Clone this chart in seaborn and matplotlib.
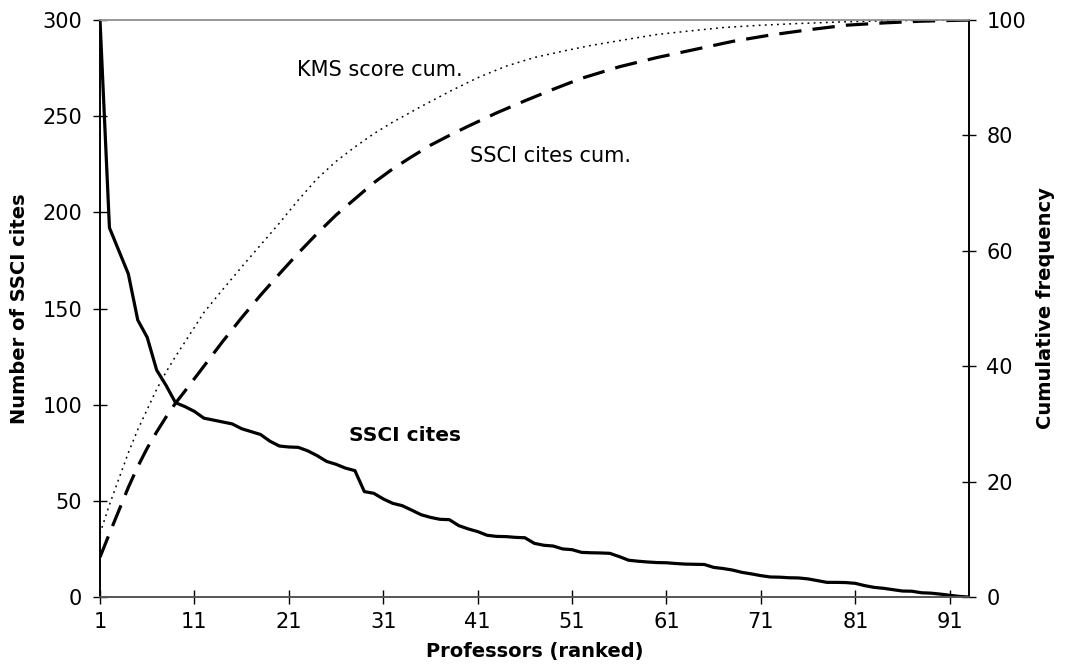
import matplotlib
matplotlib.use("Agg")
import matplotlib.pyplot as plt
import seaborn as sns

# professors ranked by SSCI cites
professor_rank = list(range(1, 94))
ssci_cites = [
    300, 192, 180, 168, 144, 135, 118, 110, 101, 99,
    96.5, 93, 92, 91, 90, 87.5, 86, 84.5, 81, 78.5,
    78, 77.8, 76, 73.5, 70.5, 69, 67, 65.7, 54.8, 53.9,
    51, 48.7, 47.5, 45.2, 42.8, 41.4, 40.4, 40.2, 37.1, 35.4,
    34, 32.1, 31.5, 31.4, 31, 30.8, 27.9, 26.9, 26.5, 25,
    24.6, 23.2, 23, 22.9, 22.7, 21, 19.1, 18.6, 18.2, 17.9,
    17.8, 17.4, 17.1, 17, 16.9, 15.4, 14.8, 14, 12.8, 12,
    11.1, 10.4, 10.3, 10, 9.9, 9.4, 8.5, 7.6, 7.6, 7.5,
    7.1, 5.9, 5, 4.5, 3.8, 3.1, 3, 2.2, 2, 1.5,
    0.9, 0.3, 0,
]

# cumulative curves (percent)
ssci_cum_rank = [1, 2, 3, 4, 5, 6, 7, 8, 9, 10, 12, 14, 16, 18, 20, 22, 24, 26, 28, 30,
                 32, 34, 36, 38, 40, 43, 46, 49, 52, 56, 60, 64, 68, 72, 76, 80, 84, 88, 93]
ssci_cum_pct = [6.9, 11.0, 15.0, 19.0, 22.6, 25.8, 28.6, 31.2, 33.6, 35.7, 40.0, 44.3, 48.4,
                52.3, 56.0, 59.6, 63.0, 66.2, 69.0, 71.8, 74.2, 76.3, 78.3, 80.0, 81.6,
                83.9, 86.0, 88.0, 89.9, 91.9, 93.5, 94.9, 96.3, 97.4, 98.3, 99.1, 99.5,
                99.8, 100]

kms_cum_rank = [1, 2, 3, 4, 5, 6, 7, 8, 9, 10, 12, 14, 16, 18, 20, 22, 24, 26, 28, 30,
                32, 35, 38, 41, 44, 47, 50, 53, 57, 60, 64, 67, 71, 75, 80, 85, 93]
kms_cum_pct = [11, 16, 20.5, 25, 29, 32.5, 36, 39, 41.7, 44.2, 49.3, 53.3, 57.2, 61, 64.8,
               68.8, 72.5, 75.5, 78.0, 80.3, 82.3, 85.0, 87.6, 90.0, 92.0, 93.5, 94.6, 95.6,
               96.7, 97.5, 98.2, 98.7, 99.1, 99.4, 99.7, 99.9, 100]

x_ticks = [1, 11, 21, 31, 41, 51, 61, 71, 81, 91]
left_ticks = [0, 50, 100, 150, 200, 250, 300]
right_ticks = [0, 20, 40, 60, 80, 100]

sns.set_theme(style="ticks")
plt.rcParams["font.family"] = ["DejaVu Sans"]
plt.rcParams.update({"text.color": "black", "axes.labelcolor": "black",
                     "xtick.color": "black", "ytick.color": "black"})

fig, ax = plt.subplots(figsize=(10.65, 6.68), dpi=100)
fig.subplots_adjust(left=0.0939, right=0.9095, top=0.970, bottom=0.1063)
ax2 = ax.twinx()

sns.lineplot(x=professor_rank, y=ssci_cites, ax=ax, color="black", lw=2.3)
sns.lineplot(x=ssci_cum_rank, y=ssci_cum_pct, ax=ax2, color="black", lw=2.3,
             linestyle=(0, (7, 3.5)))
sns.lineplot(x=kms_cum_rank, y=kms_cum_pct, ax=ax2, color="black", lw=1.1,
             linestyle=(0, (1.2, 2.8)))

ax.set_xlim(1, 93)
ax.set_ylim(0, 300)
ax2.set_ylim(0, 100)
ax.set_xticks(x_ticks)
ax.set_yticks(left_ticks)
ax2.set_yticks(right_ticks)

for a in (ax, ax2):
    a.tick_params(direction="inout", length=9.6, width=1, labelsize=15, pad=8)
    for side in ("left", "right"):
        a.spines[side].set_color("black")
    a.spines["bottom"].set_color("#555555")
    a.spines["top"].set_color("#999999")
    for s in a.spines.values():
        s.set_linewidth(1.2)
ax.tick_params(axis="x", pad=6)

ax.text(21.85, 274, "KMS score cum.", fontsize=15, va="center")
ax.text(40.2, 229.5, "SSCI cites cum.", fontsize=15, va="center")
ax.text(27.35, 84, "SSCI cites", fontsize=14.5, fontweight="bold", va="center")

ax.set_xlabel("Professors (ranked)", fontsize=14, fontweight="bold")
ax.set_ylabel("Number of SSCI cites", fontsize=14, fontweight="bold")
ax2.set_ylabel("Cumulative frequency", fontsize=14, fontweight="bold")
ax.xaxis.set_label_coords(0.5, -0.078)
ax.yaxis.set_label_coords(-0.082, 0.5)
ax2.yaxis.set_label_coords(1.078, 0.5)

fig.savefig("out.png", dpi=100)
